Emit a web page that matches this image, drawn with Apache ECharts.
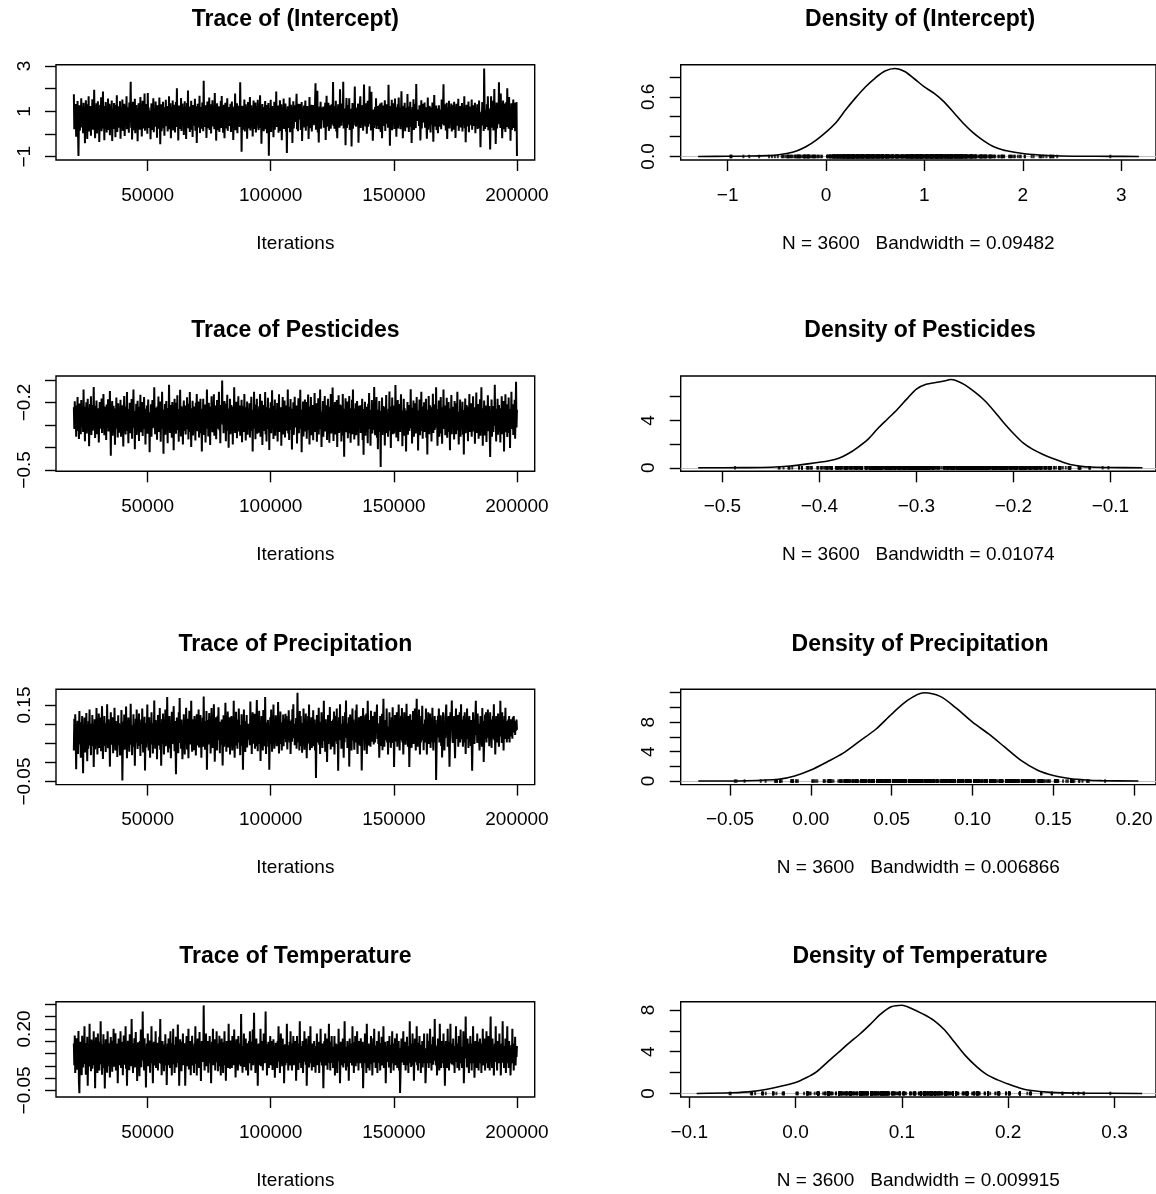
<!DOCTYPE html>
<html>
<head>
<meta charset="utf-8">
<title>MCMC trace and density plots</title>
<script src="https://cdn.jsdelivr.net/npm/echarts@6/dist/echarts.min.js"></script>
<style>
  html, body { margin: 0; padding: 0; background: #fff; }
  #chart { width: 1156px; height: 1194px; }
</style>
</head>
<body>
<div id="chart"></div>
<script>
// ---- chain summary -------------------------------------------------------
const paramNames = ['(Intercept)', 'Pesticides', 'Precipitation', 'Temperature'];
const sampleCount = 3600;
const bandwidths = ['0.09482', '0.01074', '0.006866', '0.009915'];
const iterFirst = 20050;
const iterLast = 200000;

// ---- sampled chain values (about one every 190 iterations) --------------
const traceIntercept = [
  1.75, 0.21, 1.18, 0.44, 1.32, -0.12, 0.93, 0.37, 1.46, 0.08, -0.97, 0.62, 1.27, 0.15, 1.09, 0.52, 1.58, 0.29, 0.84, 1.21,
  0.03, 1.38, 0.47, 1.12, -0.41, 0.71, 1.49, 0.26, 0.98, -0.22, 1.31, 0.58, 1.66, 0.11, 0.89, 0.42, 1.24, -0.08, 1.07, 0.36,
  1.53, 0.19, 1.02, 0.64, 1.95, 0.33, -0.18, 1.17, 0.49, 1.36, 0.02, 0.86, 1.44, 0.27, 1.11, -0.35, 0.77, 1.29, 0.41, 1.62,
  0.12, 1.08, 0.55, 1.88, 0.24, 0.97, -0.27, 1.23, 0.39, 1.41, 0.68, 0.07, 1.19, 0.46, 1.57, 0.18, 0.92, 1.33, -0.05, 0.81,
  1.26, 0.31, 1.48, -0.31, 0.74, 1.13, 0.22, 1.37, 0.51, 0.96, -0.14, 1.29, 0.63, 1.71, 0.09, 1.04, 0.43, 1.22, 0.28, 0.88,
  1.45, -0.21, 0.67, 1.16, 0.35, 1.52, 0.14, 0.99, 0.57, 1.34, -0.09, 0.83, 1.26, 0.38, 1.67, 0.21, 0.94, 0.48, 1.18, 0.06,
  1.39, 0.53, 0.97, 2.31, 0.28, 1.14, -0.24, 0.79, 1.42, 0.17, 1.06, 0.61, 1.55, 0.04, 0.91, 1.28, 0.33, 1.11, -0.32, 0.72,
  1.36, 0.44, 1.01, 0.19, 1.63, 0.58, 1.21, -0.11, 0.87, 1.47, 0.24, 1.09, 0.49, 1.79, 0.15, 0.96, 0.37, 1.32, 0.66, 0.01,
  1.81, 0.39, 1.17, 0.27, 1.04, 0.62, -0.23, 0.93, 1.35, 0.18, 1.24, 0.51, 1.58, 0.08, 0.85, 1.12, 0.32, 1.43, 0.57, 0.98,
  -0.16, 1.27, 0.45, 1.14, 0.23, 1.61, 0.69, -0.45, 0.88, 1.31, 0.12, 1.06, 0.53, 1.42, 0.26, 0.97, -0.07, 1.18, 0.64, 1.51,
  0.34, 0.92, 1.23, 0.11, 1.09, 0.48, 1.67, 0.21, 0.82, 1.36, -0.19, 0.74, 1.19, 0.42, 1.48, 0.16, 1.02, 0.59, 1.29, 0.07,
  0.95, 1.41, 0.31, 2.02, 0.47, 1.13, -0.28, 0.81, 1.26, 0.22, 1.07, 0.55, 1.59, 0.13, 0.89, 1.34, 0.36, 1.16, -0.04, 0.78,
  1.44, 0.28, 1.05, -0.22, 0.92, 1.37, 0.41, 1.92, 0.25, 0.86, 1.21, 0.09, 1.11, 0.58, 1.47, 0.19, 0.99, -0.13, 1.28, 0.52,
  1.03, 0.37, 1.56, 0.14, 0.84, 1.22, -0.39, 0.71, 1.33, 0.29, 1.08, 0.61, 1.69, 0.05, 0.93, 0.44, 1.19, 0.23, 1.39, 0.67,
  0.12, 2.35, 0.48, 1.06, 0.31, 1.27, 0.73, -0.17, 0.96, 1.43, 0.26, 1.12, 0.54, 1.61, 0.18, 0.89, 1.31, 0.02, 1.08, 0.63,
  1.49, 0.33, 0.97, 1.24, 0.21, 1.81, 0.59, 1.03, -0.29, 0.77, 1.36, 0.17, 1.14, 0.46, 1.22, 0.09, 0.91, 0.52, 1.46, 0.27,
  1.68, 0.41, 1.12, 0.06, 0.94, 1.29, -0.19, 0.83, 1.38, 0.24, 1.01, 0.57, 1.58, 0.14, 0.88, 1.19, 0.35, 1.07, 0.49, 1.33,
  0.09, 0.96, 1.43, 0.28, 1.14, -0.26, 0.73, 1.21, 0.38, 1.79, 0.17, 0.99, 0.61, 1.36, 0.04, 0.87, 1.25, 0.43, 1.11, 0.31,
  2.28, 0.54, 1.09, -0.78, 0.66, 1.24, 0.19, 1.03, 0.47, 1.52, 0.11, 0.92, 1.31, 0.36, 1.18, -0.21, 0.84, 1.41, 0.25, 1.06,
  0.58, 1.63, 0.16, 0.95, 1.27, 0.32, 1.12, -0.11, 0.79, 1.48, 0.22, 1.01, 0.53, 1.39, 0.07, 0.91, 1.22, 0.41, 1.51, 0.29,
  0.18, 1.14, 0.62, 1.71, 0.27, 0.98, -0.43, 0.81, 1.32, 0.36, 1.19, 0.12, 1.04, 0.55, 1.46, 0.21, 0.89, 1.28, 0.04, 1.09,
  0.47, 1.37, -0.96, 0.64, 1.15, 0.26, 1.51, 0.09, 0.93, 1.24, 0.38, 1.07, -0.14, 0.86, 1.42, 0.19, 1.12, 0.51, 1.87, 0.31,
  0.97, 0.43, 1.26, 0.06, 1.13, 0.59, 1.49, 0.14, 0.88, 1.31, -0.27, 0.76, 1.18, 0.33, 1.57, 0.22, 0.95, 0.48, 1.35, 0.11,
  1.04, -0.84, 0.68, 1.22, 0.27, 1.16, 0.52, 1.61, 0.08, 0.91, 1.29, 0.37, 1.06, -0.39, 0.79, 1.44, 0.24, 0.99, 0.56, 1.27,
  0.53, 1.09, 1.78, 0.21, 0.96, 0.12, 1.33, 0.64, 1.03, 0.77, 1.32, 0.18, 0.86, 1.41, -0.31, 0.69, 1.17, 0.41, 1.26, 0.29,
  0.83, 1.48, 0.15, 1.02, 0.57, 1.24, 0.34, 1.13, -0.22, 0.67, 1.63, 0.26, 1.02, 0.48, 1.29, 0.11, 0.94, 0.72, 1.28, 0.39,
  0.97, 0.43, 1.36, 2.24, 0.19, 1.14, 0.51, 1.91, 0.07, 0.87, -0.37, 0.76, 1.21, 0.45, 1.42, 0.23, 0.88, 1.17, 0.61, 0.99,
  1.21, 0.28, 1.07, 0.54, 1.38, -0.26, 0.86, 1.69, 0.32, 0.92, 0.49, 1.38, 0.14, 1.11, 0.66, 1.27, 0.23, 0.97, 1.31, 0.42,
  0.87, 2.29, 0.36, 1.08, 0.23, 1.24, 0.62, 1.47, 0.11, 0.93, -0.18, 0.73, 1.31, 0.42, 1.15, 0.28, 1.97, 0.81, 1.04, 0.37,
  0.79, 1.35, 0.57, 2.31, 0.24, 1.13, 0.66, 1.06, -0.49, 0.94, 1.59, 0.27, 0.82, 0.41, 1.28, 0.76, 1.58, 0.18, 0.97, 0.52,
  1.11, -0.55, 0.68, 1.37, 0.23, 0.84, 1.25, 0.72, 2.09, 0.38, 1.01, 0.32, 0.89, 1.17, 0.48, 1.34, -0.38, 0.55, 0.92, 1.34,
  1.66, 0.27, 0.82, 0.49, 1.07, 1.28, 0.15, 0.86, 2.18, 0.61, 1.12, 0.33, 0.97, 1.36, 0.01, 0.74, 1.47, 0.32, 0.93, 0.78,
  2.11, 0.44, 1.44, 0.16, 1.86, 0.38, 0.88, -0.29, 0.46, 1.08, 0.27, 0.71, 1.19, 0.41, 1.58, 0.22, 0.96, 1.23, 0.36, 1.02,
  0.21, 1.27, 0.76, 1.34, 0.09, 0.91, 1.39, -0.18, 0.83, 1.26, 0.35, 1.12, 0.57, 1.49, 0.13, 0.99, 0.46, 1.31, 0.68, 1.04,
  0.28, 2.17, 0.62, 1.14, -0.52, 0.78, 1.23, 0.38, 1.51, 0.17, 0.92, 1.36, 0.44, 1.01, 0.22, 1.57, 0.63, 0.87, -0.12, 1.18,
  0.57, 1.31, 0.24, 1.61, 0.83, 0.38, 1.16, 0.21, 0.93, 1.89, 0.47, 1.07, -0.19, 0.77, 1.25, 0.41, 1.38, 0.12, 0.91, 0.62,
  1.16, 0.29, 1.76, 0.54, 0.97, 0.09, 1.21, 0.73, 1.42, 0.31, 0.86, -0.39, 0.64, 1.19, 0.44, 1.53, 0.18, 1.01, 0.58, 1.33,
  0.26, 2.21, 0.71, 1.02, 0.58, 0.88, 1.08, 0.35, 1.27, 0.61, -0.28, 0.57, 1.49, 0.24, 0.95, 1.33, 0.51, 1.12, 0.81, 1.39,
  0.28, 0.77, 1.18, 0.46, -0.21, 0.67, 1.61, 0.19, 1.09, 0.49, 1.24, 0.85, 0.07, 0.91, 1.17, 0.42, 1.39, 0.53, -0.34, 0.79,
  1.72, 0.33, 1.03, 0.69, 1.26, 0.18, 1.13, 0.56, 0.04, 0.83, 1.27, 0.32, 0.92, 0.59, 1.08, 0.21, 1.52, 0.89, 0.43, 1.15,
  2.19, 0.38, 1.02, 0.72, 1.31, 0.16, 0.94, 1.38, -0.22, 0.71, 1.16, 0.34, 1.47, 0.25, 0.87, 1.21, 0.49, 1.34, 0.11, 0.96,
  0.63, 1.28, 0.19, 1.42, 0.54, 1.07, -0.17, 0.84, 1.33, 0.37, 1.11, 0.68, 1.56, 0.14, 0.93, 0.47, 1.24, 0.29, 1.02, 0.61,
  1.37, 0.11, 0.89, 1.18, 0.42, 1.66, 0.26, 0.98, -0.36, 0.72, 1.29, 0.33, 1.14, 0.55, 1.43, 0.08, 0.86, 1.21, 0.39, 1.07,
  0.48, 1.52, 0.19, 0.96, 1.27, 0.35, 1.09, 0.61, 1.38, 0.04, 0.83, 1.16, 0.45, 1.31, 0.22, 1.04, 0.57, 1.48, 0.27, 0.89,
  -0.58, 0.42, 0.98, 0.71, 1.41, 0.38, 1.24, 0.13, 2.89, 1.13, 0.22, 0.82, 1.06, 0.31, 1.31, 0.58, 1.67, 0.17, 0.86, 1.12,
  0.36, -0.68, 0.51, 1.67, 0.28, 1.02, 0.46, 1.47, 0.16, 0.86, 1.98, 0.32, 0.96, -0.44, 0.61, 1.39, 0.24, 0.88, 1.19, 0.43,
  2.28, 0.63, 1.14, 0.27, 1.79, 0.41, 0.83, -0.18, 0.74, 1.48, 0.21, 1.12, 0.52, 1.34, 0.09, 0.87, 1.41, 0.31, 2.02, 0.58,
  1.21, 0.23, 1.63, 0.44, 0.97, -0.29, 0.81, 1.36, 0.18, 1.26, 0.65, 1.52, 0.27, 0.94, 1.38, 0.12, 1.08, 0.52, 1.41, -0.97
];
const tracePesticides = [
  -0.221, -0.318, -0.194, -0.296, -0.247, -0.352, -0.213, -0.281, -0.176, -0.327, -0.258, -0.362, -0.204, -0.298, -0.233, -0.341, -0.189, -0.309, -0.262, -0.224,
  -0.331, -0.142, -0.287, -0.219, -0.372, -0.246, -0.302, -0.199, -0.338, -0.256, -0.183, -0.318, -0.231, -0.394, -0.268, -0.207, -0.293, -0.172, -0.344, -0.251,
  -0.211, -0.326, -0.262, -0.131, -0.297, -0.238, -0.358, -0.214, -0.283, -0.191, -0.341, -0.249, -0.305, -0.226, -0.378, -0.263, -0.198, -0.317, -0.241, -0.288,
  -0.182, -0.336, -0.229, -0.301, -0.162, -0.274, -0.346, -0.218, -0.292, -0.243, -0.367, -0.209, -0.313, -0.254, -0.186, -0.329, -0.236, -0.298, -0.149, -0.281,
  -0.437, -0.232, -0.306, -0.193, -0.348, -0.257, -0.215, -0.322, -0.264, -0.388, -0.227, -0.291, -0.178, -0.316, -0.249, -0.356, -0.203, -0.276, -0.334, -0.241,
  -0.299, -0.188, -0.352, -0.244, -0.319, -0.212, -0.284, -0.396, -0.236, -0.171, -0.307, -0.259, -0.342, -0.218, -0.291, -0.153, -0.326, -0.263, -0.381, -0.229,
  -0.272, -0.201, -0.337, -0.248, -0.303, -0.184, -0.361, -0.227, -0.289, -0.142, -0.312, -0.253, -0.408, -0.238, -0.296, -0.206, -0.344, -0.268, -0.192, -0.321,
  -0.244, -0.371, -0.219, -0.283, -0.166, -0.332, -0.257, -0.304, -0.198, -0.349, -0.233, -0.292, -0.176, -0.318, -0.262, -0.387, -0.228, -0.279, -0.213, -0.339,
  -0.258, -0.187, -0.324, -0.271, -0.421, -0.243, -0.296, -0.208, -0.352, -0.261, -0.189, -0.314, -0.236, -0.298, -0.132, -0.277, -0.341, -0.222, -0.307, -0.249,
  -0.366, -0.217, -0.289, -0.173, -0.331, -0.252, -0.304, -0.196, -0.374, -0.239, -0.283, -0.152, -0.318, -0.264, -0.428, -0.231, -0.297, -0.207, -0.343, -0.269,
  -0.193, -0.327, -0.248, -0.381, -0.224, -0.291, -0.121, -0.268, -0.336, -0.211, -0.302, -0.253, -0.357, -0.198, -0.287, -0.234, -0.412, -0.262, -0.183, -0.314,
  -0.246, -0.339, -0.201, -0.293, -0.168, -0.322, -0.257, -0.374, -0.229, -0.301, -0.143, -0.278, -0.351, -0.217, -0.306, -0.238, -0.387, -0.254, -0.191, -0.326,
  -0.263, -0.213, -0.342, -0.249, -0.296, -0.177, -0.319, -0.232, -0.364, -0.206, -0.288, -0.153, -0.331, -0.267, -0.398, -0.226, -0.302, -0.192, -0.347, -0.259,
  -0.218, -0.305, -0.241, -0.369, -0.201, -0.286, -0.162, -0.328, -0.252, -0.311, -0.196, -0.356, -0.237, -0.294, -0.183, -0.337, -0.271, -0.418, -0.228, -0.297,
  -0.183, -0.344, -0.236, -0.302, -0.209, -0.378, -0.254, -0.317, -0.142, -0.283, -0.229, -0.351, -0.201, -0.293, -0.262, -0.389, -0.218, -0.308, -0.172, -0.271,
  -0.332, -0.227, -0.291, -0.163, -0.348, -0.244, -0.301, -0.213, -0.363, -0.256, -0.189, -0.317, -0.233, -0.296, -0.152, -0.323, -0.268, -0.381, -0.211, -0.287,
  -0.246, -0.102, -0.298, -0.221, -0.337, -0.257, -0.193, -0.312, -0.238, -0.372, -0.204, -0.289, -0.166, -0.326, -0.251, -0.401, -0.227, -0.302, -0.183, -0.341,
  -0.262, -0.211, -0.318, -0.243, -0.387, -0.219, -0.293, -0.132, -0.271, -0.336, -0.228, -0.306, -0.197, -0.359, -0.247, -0.284, -0.172, -0.329, -0.256, -0.213,
  -0.348, -0.236, -0.297, -0.188, -0.377, -0.253, -0.308, -0.214, -0.331, -0.162, -0.286, -0.241, -0.369, -0.221, -0.302, -0.196, -0.343, -0.263, -0.227, -0.318,
  -0.203, -0.356, -0.249, -0.292, -0.174, -0.327, -0.268, -0.418, -0.233, -0.289, -0.152, -0.316, -0.242, -0.363, -0.209, -0.298, -0.183, -0.339, -0.256, -0.231,
  -0.334, -0.217, -0.291, -0.162, -0.352, -0.244, -0.309, -0.192, -0.389, -0.258, -0.211, -0.327, -0.237, -0.296, -0.153, -0.341, -0.263, -0.373, -0.221, -0.286,
  -0.179, -0.318, -0.248, -0.411, -0.226, -0.302, -0.199, -0.337, -0.254, -0.146, -0.291, -0.233, -0.362, -0.214, -0.297, -0.187, -0.348, -0.267, -0.236, -0.321,
  -0.202, -0.373, -0.243, -0.299, -0.163, -0.331, -0.258, -0.304, -0.221, -0.392, -0.249, -0.283, -0.176, -0.342, -0.237, -0.311, -0.191, -0.356, -0.269, -0.213,
  -0.326, -0.231, -0.288, -0.142, -0.338, -0.253, -0.367, -0.219, -0.297, -0.184, -0.321, -0.246, -0.409, -0.228, -0.302, -0.199, -0.344, -0.262, -0.174, -0.311,
  -0.241, -0.307, -0.213, -0.382, -0.256, -0.296, -0.181, -0.337, -0.227, -0.291, -0.143, -0.318, -0.264, -0.421, -0.232, -0.288, -0.196, -0.351, -0.248, -0.303,
  -0.187, -0.329, -0.252, -0.198, -0.361, -0.239, -0.301, -0.164, -0.323, -0.271, -0.387, -0.218, -0.293, -0.176, -0.346, -0.254, -0.304, -0.211, -0.368, -0.236,
  -0.292, -0.158, -0.331, -0.247, -0.311, -0.203, -0.374, -0.258, -0.287, -0.181, -0.342, -0.229, -0.303, -0.142, -0.319, -0.266, -0.398, -0.241, -0.278, -0.193,
  -0.352, -0.234, -0.306, -0.171, -0.329, -0.252, -0.291, -0.212, -0.367, -0.243, -0.183, -0.314, -0.261, -0.379, -0.219, -0.296, -0.162, -0.338, -0.247, -0.301,
  -0.133, -0.287, -0.371, -0.226, -0.317, -0.198, -0.342, -0.257, -0.304, -0.189, -0.398, -0.238, -0.292, -0.168, -0.336, -0.261, -0.209, -0.326, -0.244, -0.373,
  -0.212, -0.301, -0.162, -0.348, -0.251, -0.441, -0.228, -0.293, -0.181, -0.332, -0.264, -0.308, -0.196, -0.359, -0.239, -0.287, -0.171, -0.337, -0.226, -0.379,
  -0.249, -0.302, -0.188, -0.341, -0.142, -0.283, -0.227, -0.364, -0.251, -0.311, -0.203, -0.346, -0.262, -0.193, -0.318, -0.236, -0.392, -0.214, -0.297, -0.266,
  -0.212, -0.336, -0.241, -0.296, -0.183, -0.367, -0.254, -0.432, -0.229, -0.308, -0.197, -0.348, -0.263, -0.219, -0.327, -0.251, -0.381, -0.206, -0.289, -0.158,
  -0.318, -0.233, -0.392, -0.247, -0.291, -0.189, -0.338, -0.261, -0.208, -0.322, -0.131, -0.279, -0.346, -0.224, -0.303, -0.176, -0.357, -0.252, -0.408, -0.232,
  -0.296, -0.193, -0.331, -0.256, -0.487, -0.238, -0.302, -0.178, -0.344, -0.262, -0.216, -0.314, -0.243, -0.391, -0.221, -0.288, -0.167, -0.336, -0.254, -0.304,
  -0.352, -0.228, -0.287, -0.151, -0.326, -0.249, -0.402, -0.218, -0.297, -0.178, -0.341, -0.262, -0.213, -0.338, -0.243, -0.296, -0.122, -0.283, -0.356, -0.227,
  -0.301, -0.189, -0.372, -0.244, -0.289, -0.207, -0.331, -0.256, -0.163, -0.318, -0.236, -0.394, -0.252, -0.298, -0.183, -0.348, -0.226, -0.312, -0.268, -0.418,
  -0.236, -0.306, -0.198, -0.343, -0.255, -0.211, -0.327, -0.242, -0.281, -0.141, -0.314, -0.248, -0.382, -0.223, -0.296, -0.191, -0.352, -0.264, -0.309, -0.203,
  -0.338, -0.256, -0.176, -0.322, -0.235, -0.413, -0.262, -0.297, -0.187, -0.346, -0.241, -0.291, -0.152, -0.327, -0.257, -0.361, -0.218, -0.303, -0.199, -0.331,
  -0.246, -0.306, -0.183, -0.357, -0.253, -0.431, -0.232, -0.288, -0.171, -0.341, -0.262, -0.212, -0.318, -0.238, -0.373, -0.221, -0.299, -0.161, -0.336, -0.267,
  -0.208, -0.322, -0.243, -0.292, -0.132, -0.312, -0.253, -0.392, -0.229, -0.283, -0.191, -0.352, -0.263, -0.301, -0.176, -0.338, -0.248, -0.383, -0.221, -0.296,
  -0.142, -0.318, -0.257, -0.213, -0.346, -0.246, -0.302, -0.179, -0.357, -0.236, -0.291, -0.198, -0.331, -0.263, -0.412, -0.227, -0.286, -0.167, -0.341, -0.254,
  -0.219, -0.307, -0.236, -0.364, -0.193, -0.296, -0.251, -0.341, -0.203, -0.288, -0.152, -0.324, -0.262, -0.387, -0.241, -0.301, -0.187, -0.352, -0.229, -0.277,
  -0.316, -0.197, -0.343, -0.258, -0.431, -0.233, -0.292, -0.182, -0.337, -0.264, -0.211, -0.308, -0.244, -0.372, -0.218, -0.289, -0.162, -0.331, -0.252, -0.296,
  -0.203, -0.352, -0.247, -0.304, -0.172, -0.329, -0.263, -0.221, -0.383, -0.241, -0.298, -0.156, -0.336, -0.255, -0.313, -0.207, -0.361, -0.238, -0.291, -0.186,
  -0.348, -0.262, -0.132, -0.301, -0.241, -0.392, -0.226, -0.288, -0.191, -0.347, -0.253, -0.308, -0.213, -0.376, -0.239, -0.294, -0.168, -0.328, -0.257, -0.216,
  -0.339, -0.442, -0.246, -0.302, -0.187, -0.352, -0.258, -0.216, -0.331, -0.237, -0.291, -0.121, -0.303, -0.264, -0.373, -0.228, -0.297, -0.183, -0.343, -0.252,
  -0.211, -0.324, -0.243, -0.378, -0.226, -0.288, -0.172, -0.341, -0.261, -0.301, -0.193, -0.418, -0.242, -0.296, -0.163, -0.332, -0.254, -0.208, -0.353, -0.236,
  -0.298, -0.178, -0.336, -0.247, -0.402, -0.229, -0.291, -0.152, -0.318, -0.263, -0.208, -0.344, -0.238, -0.298, -0.188, -0.361, -0.248, -0.108, -0.311, -0.232
];
const tracePrecipitation = [
  0.031, 0.114, 0.054, 0.126, 0.067, -0.018, 0.083, 0.041, 0.109, 0.022, 0.097, 0.063, 0.134, 0.047, 0.088, 0.012, 0.105, 0.072, 0.121, 0.039,
  -0.028, 0.091, 0.058, 0.117, 0.026, 0.084, 0.049, 0.129, 0.063, 0.003, 0.094, 0.036, 0.108, 0.075, 0.138, 0.044, 0.086, 0.019, 0.101, 0.057,
  0.124, 0.042, 0.089, -0.012, 0.067, 0.113, 0.034, 0.097, 0.052, 0.142, 0.076, 0.021, 0.104, 0.065, 0.128, 0.038, 0.083, 0.051, 0.117, 0.029,
  0.096, 0.147, 0.058, 0.009, 0.086, 0.043, 0.121, 0.069, 0.102, 0.027, 0.093, 0.055, 0.152, 0.074, 0.037, 0.113, 0.048, 0.084, -0.011, 0.071,
  0.131, 0.046, 0.099, 0.063, 0.118, 0.024, 0.082, 0.051, 0.143, 0.066, 0.031, 0.108, 0.057, 0.091, 0.014, 0.076, 0.123, 0.045, 0.102, 0.061,
  0.018, 0.094, 0.053, 0.137, 0.072, -0.047, 0.038, 0.106, 0.064, 0.125, 0.033, 0.087, 0.052, 0.146, 0.069, 0.011, 0.092, 0.043, 0.117, 0.077,
  0.028, 0.109, 0.061, 0.153, 0.046, 0.084, 0.019, 0.097, 0.058, 0.126, 0.041, 0.079, -0.009, 0.066, 0.114, 0.052, 0.138, 0.071, 0.035, 0.101,
  0.062, 0.128, 0.043, 0.091, 0.017, 0.082, 0.112, 0.048, 0.141, 0.073, 0.026, 0.096, 0.058, 0.119, -0.021, 0.068, 0.103, 0.039, 0.087, 0.151,
  0.054, 0.098, 0.031, 0.118, 0.067, 0.012, 0.089, 0.047, 0.131, 0.074, 0.102, 0.023, 0.081, 0.056, 0.162, 0.072, 0.036, 0.111, 0.052, 0.093,
  0.008, 0.076, 0.124, 0.044, 0.097, 0.061, 0.142, 0.033, 0.086, -0.009, 0.071, 0.113, 0.049, 0.128, 0.066, 0.021, 0.094, 0.057, 0.138, 0.042,
  0.103, 0.052, 0.171, 0.078, 0.026, 0.092, 0.058, 0.121, 0.037, 0.084, 0.011, 0.067, 0.132, 0.048, 0.096, 0.063, 0.147, 0.071, 0.029, 0.108,
  0.054, -0.031, 0.062, 0.117, 0.041, 0.088, 0.024, 0.131, 0.073, 0.168, 0.051, 0.097, 0.036, 0.112, 0.064, 0.008, 0.089, 0.046, 0.126, 0.069,
  0.021, 0.102, 0.057, 0.143, 0.083, 0.034, 0.114, 0.062, 0.011, 0.076, 0.135, 0.047, 0.093, 0.059, 0.161, 0.068, 0.028, 0.113, 0.052, 0.089,
  0.032, 0.121, 0.069, 0.098, 0.018, 0.083, 0.126, 0.044, 0.107, 0.061, 0.138, 0.039, 0.078, 0.055, 0.124, 0.071, 0.012, 0.094, 0.058, 0.117,
  0.041, 0.172, 0.066, 0.108, 0.033, 0.091, 0.056, 0.134, -0.019, 0.062, 0.111, 0.047, 0.086, 0.129, 0.051, 0.097, 0.023, 0.083, 0.142, 0.068,
  0.038, 0.101, 0.064, 0.152, 0.074, 0.002, 0.069, 0.118, 0.049, 0.093, 0.031, 0.122, 0.067, 0.144, 0.058, 0.088, 0.024, 0.106, 0.072, 0.046,
  0.112, 0.053, -0.008, 0.063, 0.123, 0.041, 0.098, 0.067, 0.156, 0.076, 0.028, 0.101, 0.055, 0.133, 0.039, 0.087, 0.061, 0.118, 0.021, 0.092,
  0.048, 0.121, 0.072, 0.031, 0.103, 0.057, 0.161, 0.068, 0.012, 0.089, 0.044, 0.132, 0.063, 0.097, 0.036, 0.112, 0.071, 0.141, 0.052, 0.082,
  0.019, 0.098, 0.058, 0.126, 0.043, 0.079, -0.019, 0.066, 0.138, 0.051, 0.092, 0.027, 0.108, 0.063, 0.124, 0.039, 0.084, 0.059, 0.101, 0.071,
  0.081, 0.045, 0.159, 0.067, 0.104, 0.022, 0.083, 0.131, 0.049, 0.096, 0.062, 0.127, 0.036, 0.085, 0.042, 0.103, 0.163, 0.072, 0.029, 0.113,
  0.062, 0.135, 0.048, 0.082, 0.004, 0.069, 0.121, 0.053, 0.098, 0.031, 0.137, 0.064, 0.092, 0.042, 0.171, 0.073, 0.022, 0.104, 0.056, 0.088,
  0.111, 0.041, 0.089, -0.019, 0.058, 0.118, 0.049, 0.138, 0.074, 0.028, 0.108, 0.062, 0.151, 0.068, 0.036, 0.096, 0.052, 0.123, 0.081, 0.042,
  0.101, 0.057, 0.158, 0.071, 0.023, 0.092, 0.048, 0.133, 0.066, 0.105, 0.031, 0.087, 0.059, 0.125, 0.042, 0.113, 0.081, 0.062, 0.127, 0.053,
  0.121, 0.073, 0.034, 0.103, 0.061, 0.136, 0.081, 0.052, 0.108, 0.022, 0.068, 0.112, 0.054, 0.139, 0.078, 0.152, 0.063, 0.101, 0.045, 0.083,
  0.061, 0.116, 0.036, 0.083, 0.182, 0.071, 0.053, 0.102, 0.031, 0.134, 0.042, 0.121, 0.068, 0.092, 0.025, 0.103, 0.046, 0.141, 0.075, 0.033,
  0.098, 0.052, 0.128, 0.068, 0.011, 0.086, 0.049, 0.121, 0.073, 0.151, 0.061, 0.032, 0.103, 0.057, 0.118, 0.038, 0.091, 0.067, 0.136, 0.042,
  0.081, 0.112, 0.031, 0.089, -0.041, 0.062, 0.124, 0.052, 0.098, 0.071, 0.143, 0.046, 0.083, 0.022, 0.106, 0.064, 0.131, 0.073, 0.038, 0.101,
  0.056, 0.161, 0.068, 0.092, 0.028, 0.113, 0.052, 0.082, 0.001, 0.067, 0.124, 0.048, 0.096, 0.061, 0.145, 0.073, 0.034, 0.108, 0.051, 0.089,
  0.041, 0.112, 0.068, 0.133, 0.021, 0.083, 0.055, 0.122, 0.066, 0.141, 0.048, 0.097, -0.022, 0.061, 0.118, 0.072, 0.152, 0.058, 0.101, 0.036,
  0.088, 0.048, 0.121, 0.062, 0.012, 0.094, 0.053, 0.131, 0.078, 0.162, 0.064, 0.102, 0.038, 0.082, 0.047, 0.118, -0.011, 0.068, 0.125, 0.057,
  0.103, 0.031, 0.092, 0.141, 0.058, 0.112, 0.071, 0.033, 0.098, 0.052, 0.136, 0.081, 0.151, 0.061, 0.022, 0.095, 0.046, 0.118, 0.068, 0.104,
  0.043, 0.121, 0.065, -0.021, 0.052, 0.101, 0.142, 0.068, 0.097, 0.031, 0.086, 0.123, 0.061, 0.128, 0.022, 0.073, 0.161, 0.091, 0.044, 0.111,
  0.062, 0.092, 0.041, 0.135, 0.072, 0.101, 0.054, 0.121, 0.078, 0.047, 0.088, 0.132, 0.052, 0.114, 0.076, 0.109, 0.151, 0.061, 0.102, 0.048,
  0.081, 0.012, 0.068, 0.121, 0.043, 0.098, 0.061, 0.127, 0.032, 0.101, 0.166, 0.072, 0.041, 0.092, 0.058, 0.111, 0.074, 0.141, 0.052, 0.088,
  0.021, 0.094, 0.052, 0.131, 0.063, 0.111, 0.038, 0.082, 0.118, 0.051, 0.144, 0.068, 0.098, -0.012, 0.061, 0.124, 0.055, 0.099, 0.072, 0.131,
  0.041, 0.108, 0.061, 0.151, 0.081, 0.031, 0.101, 0.058, 0.122, 0.071, 0.142, 0.052, 0.091, 0.021, 0.078, 0.131, 0.063, 0.111, 0.046, 0.088,
  0.153, 0.068, 0.102, 0.041, 0.121, 0.081, -0.012, 0.052, 0.126, 0.063, 0.098, 0.038, 0.111, 0.071, 0.134, 0.048, 0.092, 0.058, 0.141, 0.072,
  0.031, 0.096, 0.166, 0.078, 0.041, 0.111, 0.061, 0.138, 0.072, 0.021, 0.089, 0.052, 0.121, 0.074, 0.148, 0.058, 0.101, 0.032, 0.098, 0.061,
  0.112, 0.052, 0.141, 0.081, 0.021, 0.092, 0.063, 0.131, 0.048, 0.101, 0.072, 0.128, 0.038, 0.082, 0.115, 0.053, 0.143, 0.068, 0.031, 0.098,
  0.061, 0.121, 0.052, 0.111, -0.046, 0.031, 0.101, 0.065, 0.122, 0.081, 0.141, 0.052, 0.098, 0.061, 0.123, 0.043, 0.088, 0.013, 0.078, 0.131,
  0.121, 0.061, 0.031, 0.092, 0.064, 0.128, 0.151, 0.072, 0.108, 0.041, 0.093, 0.121, 0.052, -0.011, 0.058, 0.131, 0.081, 0.102, 0.162, 0.068,
  0.051, 0.103, 0.078, 0.121, 0.058, 0.011, 0.082, 0.141, 0.061, 0.108, 0.071, 0.124, 0.041, 0.085, 0.061, 0.131, 0.052, 0.091, 0.152, 0.072,
  0.061, 0.112, 0.041, 0.098, 0.122, 0.052, 0.131, 0.071, 0.022, 0.096, 0.061, 0.141, 0.078, 0.103, 0.038, 0.088, 0.121, 0.063, 0.098, 0.043,
  0.111, 0.048, -0.022, 0.052, 0.131, 0.068, 0.103, 0.048, 0.081, 0.121, 0.161, 0.072, 0.102, 0.051, 0.128, 0.078, 0.101, 0.061, 0.031, 0.082,
  0.121, 0.061, 0.098, 0.041, 0.142, 0.071, 0.108, 0.001, 0.048, 0.091, 0.125, 0.062, 0.131, 0.052, 0.092, 0.064, 0.138, 0.078, 0.112, 0.042,
  0.088, 0.131, 0.061, 0.112, 0.038, 0.098, 0.062, 0.121, 0.081, 0.152, 0.058, 0.102, 0.021, 0.081, 0.121, 0.063, 0.098, 0.052, 0.128, 0.072,
  0.041, 0.112, 0.068, 0.161, 0.078, 0.102, 0.051, 0.131, 0.063, 0.098, 0.031, 0.088, 0.121, 0.061, 0.143, 0.072, 0.108, 0.052, 0.092, 0.061,
  0.112, 0.071, 0.121, 0.052, 0.098, 0.068, 0.113, 0.081, 0.103, 0.062, 0.118, 0.078, 0.121, 0.091, 0.108, 0.072, 0.101, 0.083, 0.112, 0.085
];
const traceTemperature = [
  0.141, 0.052, 0.173, 0.021, 0.118, 0.076, 0.162, 0.034, 0.129, 0.083, 0.192, -0.018, -0.062, 0.093, 0.148, 0.065, 0.124, 0.012, 0.172, 0.088,
  0.043, 0.131, 0.076, 0.211, 0.058, 0.102, 0.014, 0.143, 0.084, 0.168, -0.031, 0.092, 0.136, 0.047, 0.221, 0.071, 0.118, 0.028, 0.157, 0.096,
  0.038, 0.151, 0.081, 0.191, 0.052, 0.125, -0.041, 0.108, 0.166, 0.063, 0.133, 0.021, 0.181, 0.074, 0.112, 0.031, 0.148, 0.086, 0.231, 0.057,
  0.102, 0.014, 0.138, 0.071, 0.178, 0.041, 0.127, -0.042, 0.093, 0.158, 0.061, 0.134, 0.022, 0.191, 0.079, 0.142, 0.048, 0.116, 0.002, 0.127,
  0.167, 0.061, 0.113, 0.026, 0.152, 0.088, 0.201, 0.046, 0.128, 0.075, 0.183, 0.031, 0.121, 0.068, 0.141, -0.021, 0.098, 0.161, 0.052, 0.132,
  0.078, 0.191, 0.041, 0.118, 0.063, 0.148, 0.012, 0.102, 0.173, 0.054, 0.136, 0.081, 0.211, 0.038, 0.111, -0.031, 0.087, 0.152, 0.066, 0.123,
  0.032, 0.178, 0.071, 0.131, 0.048, 0.241, 0.091, 0.142, 0.021, 0.118, 0.064, 0.162, 0.043, 0.101, 0.188, 0.058, 0.128, -0.012, 0.097, 0.146,
  0.062, 0.121, 0.008, 0.151, 0.083, 0.198, 0.044, 0.135, 0.072, 0.271, 0.086, 0.118, 0.031, 0.162, 0.058, 0.122, -0.038, 0.091, 0.141, 0.074,
  0.181, 0.048, 0.116, 0.067, 0.153, 0.022, 0.131, 0.083, 0.211, 0.061, 0.102, -0.021, 0.088, 0.148, 0.051, 0.126, 0.072, 0.191, 0.041, 0.128,
  0.071, 0.144, 0.031, 0.112, 0.062, 0.168, 0.093, 0.241, 0.058, 0.121, 0.012, 0.104, 0.151, 0.068, 0.137, 0.028, 0.118, 0.081, 0.178, 0.051,
  0.118, -0.028, 0.078, 0.141, 0.052, 0.161, 0.095, 0.128, 0.041, 0.191, 0.071, 0.117, 0.011, 0.143, 0.083, 0.201, 0.056, 0.112, 0.021, 0.136,
  0.081, 0.168, 0.043, 0.131, 0.076, 0.218, 0.062, 0.124, -0.031, 0.098, 0.158, 0.061, 0.112, 0.028, 0.148, 0.084, 0.181, 0.052, 0.123, 0.068,
  0.142, -0.031, 0.061, 0.118, 0.171, 0.048, 0.133, 0.082, 0.201, 0.035, 0.109, 0.062, 0.151, 0.012, 0.127, 0.083, 0.172, 0.051, 0.128, 0.074,
  0.021, 0.141, 0.082, 0.211, 0.058, 0.118, 0.011, 0.103, 0.161, 0.062, 0.134, 0.041, 0.188, 0.072, 0.121, -0.012, 0.098, 0.151, 0.066, 0.118,
  0.081, 0.296, 0.102, 0.031, 0.145, 0.072, 0.181, 0.048, 0.121, 0.087, 0.151, 0.022, 0.112, 0.061, 0.171, 0.091, 0.133, -0.021, 0.078, 0.148,
  0.061, 0.201, 0.052, 0.121, 0.084, 0.158, 0.031, 0.131, 0.072, 0.191, 0.065, 0.118, 0.028, 0.141, 0.093, 0.172, 0.048, 0.112, 0.011, 0.128,
  0.161, 0.051, 0.108, 0.021, 0.146, 0.078, 0.191, 0.052, 0.118, -0.011, 0.091, 0.151, 0.062, 0.135, 0.041, 0.221, 0.081, 0.119, 0.038, 0.153,
  0.072, 0.128, 0.041, 0.171, 0.094, 0.131, 0.052, 0.198, 0.067, 0.112, 0.002, 0.098, 0.158, 0.061, 0.124, 0.031, 0.171, 0.082, 0.141, 0.055,
  0.112, 0.048, 0.261, 0.091, 0.131, 0.022, 0.118, 0.072, 0.181, 0.045, 0.128, 0.081, 0.161, 0.031, 0.108, 0.066, 0.142, 0.011, 0.098, 0.151,
  0.061, 0.191, 0.071, 0.125, 0.031, 0.148, 0.083, 0.198, 0.052, 0.131, 0.266, 0.078, 0.121, 0.021, 0.101, 0.161, 0.064, 0.137, -0.031, 0.092,
  0.141, 0.052, 0.131, 0.085, 0.201, 0.048, 0.121, 0.076, 0.151, 0.031, 0.112, 0.181, 0.061, 0.128, 0.091, 0.271, 0.062, 0.118, 0.011, 0.138,
  0.068, 0.148, 0.041, 0.121, 0.084, 0.171, 0.052, 0.116, 0.061, 0.151, 0.033, 0.098, 0.158, 0.071, 0.131, 0.001, 0.088, 0.144, 0.062, 0.118,
  0.041, 0.151, 0.091, 0.211, 0.067, 0.131, 0.021, 0.102, 0.181, 0.071, 0.128, 0.048, 0.161, 0.086, 0.135, -0.021, 0.072, 0.138, 0.052, 0.121,
  0.081, 0.221, 0.062, 0.134, 0.031, 0.112, 0.083, 0.148, 0.051, 0.191, 0.075, 0.122, 0.031, 0.141, 0.087, 0.171, 0.052, 0.118, 0.064, 0.151,
  0.121, -0.011, 0.081, 0.171, 0.061, 0.118, 0.033, 0.141, 0.085, 0.231, 0.062, 0.126, 0.041, 0.131, 0.072, 0.151, 0.021, 0.108, 0.067, 0.191,
  0.071, 0.131, 0.054, 0.161, -0.031, 0.062, 0.135, 0.081, 0.171, 0.043, 0.121, 0.076, 0.211, 0.061, 0.118, 0.031, 0.141, 0.084, 0.128, 0.045,
  0.151, 0.061, 0.124, 0.022, 0.131, 0.087, 0.181, 0.052, 0.118, 0.071, 0.148, 0.021, 0.108, 0.065, 0.201, 0.071, 0.133, 0.051, 0.141, 0.083,
  -0.041, 0.062, 0.151, 0.086, 0.181, 0.051, 0.118, 0.072, 0.161, 0.034, 0.121, 0.081, 0.221, 0.063, 0.118, 0.031, 0.148, 0.085, 0.171, 0.062,
  0.112, 0.041, 0.128, 0.081, 0.171, 0.011, 0.092, 0.141, 0.064, 0.121, 0.021, 0.137, 0.071, 0.201, 0.068, 0.121, -0.021, 0.078, 0.148, 0.052,
  0.131, 0.072, 0.161, 0.043, 0.112, 0.085, 0.231, 0.061, 0.128, 0.031, 0.124, 0.071, 0.151, 0.046, 0.118, -0.011, 0.098, 0.161, 0.062, 0.121,
  0.081, 0.141, 0.051, 0.211, 0.073, 0.118, 0.021, 0.146, 0.081, 0.171, 0.048, 0.128, 0.075, 0.191, 0.061, 0.118, 0.031, 0.151, 0.072, 0.134,
  0.061, 0.162, 0.071, 0.118, 0.041, 0.148, -0.041, 0.042, 0.121, 0.083, 0.181, 0.061, 0.118, 0.021, 0.221, 0.086, 0.128, 0.041, 0.141, 0.092,
  0.031, 0.128, 0.081, 0.171, 0.056, 0.121, 0.011, 0.098, 0.162, 0.064, 0.201, 0.071, 0.133, 0.041, 0.118, 0.072, 0.151, 0.021, 0.127, 0.081,
  0.191, 0.062, 0.121, 0.031, 0.143, 0.081, 0.168, 0.051, 0.118, 0.074, 0.211, 0.041, 0.125, 0.081, 0.148, -0.021, 0.072, 0.131, 0.066, 0.151,
  0.081, 0.121, 0.043, 0.171, 0.071, 0.136, 0.021, 0.121, 0.084, 0.191, 0.061, 0.118, 0.031, 0.141, 0.087, 0.162, 0.052, 0.121, 0.071, 0.181,
  0.041, 0.112, 0.068, 0.151, 0.031, 0.121, -0.061, 0.018, 0.101, 0.161, 0.064, 0.128, 0.081, 0.191, 0.053, 0.118, 0.071, 0.148, 0.031, 0.124,
  0.081, 0.168, 0.052, 0.131, 0.021, 0.126, 0.081, 0.231, 0.061, 0.118, 0.045, 0.141, 0.072, 0.181, 0.051, 0.123, -0.011, 0.078, 0.161, 0.065,
  0.131, 0.071, 0.211, 0.052, 0.118, 0.031, 0.144, 0.081, 0.171, 0.062, 0.121, 0.021, 0.135, 0.081, 0.151, 0.043, 0.118, 0.072, 0.181, 0.061,
  0.121, -0.021, 0.031, 0.121, 0.076, 0.181, 0.061, 0.128, 0.041, 0.151, 0.085, 0.201, 0.062, 0.118, 0.031, 0.138, 0.081, 0.168, 0.054, 0.121,
  0.071, 0.241, 0.081, 0.133, 0.051, 0.121, 0.011, 0.098, 0.161, 0.073, 0.131, 0.031, 0.221, 0.084, 0.121, 0.041, 0.151, 0.076, 0.128, 0.061,
  0.181, 0.041, 0.121, -0.031, 0.081, 0.151, 0.063, 0.131, 0.041, 0.201, 0.074, 0.118, 0.031, 0.148, 0.081, 0.221, 0.061, 0.118, 0.055, 0.141,
  0.081, 0.161, 0.051, 0.127, 0.021, 0.131, 0.071, 0.211, 0.066, 0.118, 0.041, 0.141, 0.086, 0.171, 0.031, 0.121, 0.075, 0.198, 0.061, 0.128,
  0.041, 0.121, 0.071, 0.191, -0.021, 0.052, 0.131, 0.083, 0.251, 0.081, 0.121, 0.043, 0.161, 0.067, 0.128, 0.021, 0.141, 0.081, 0.171, 0.061,
  0.118, 0.031, 0.141, 0.085, 0.211, 0.061, 0.126, 0.001, 0.081, 0.151, 0.064, 0.128, 0.041, 0.181, 0.073, 0.121, 0.031, 0.148, 0.087, 0.161,
  0.061, 0.121, 0.021, 0.141, 0.083, 0.201, 0.051, 0.124, 0.071, 0.161, 0.031, 0.121, 0.086, 0.191, 0.061, 0.131, 0.041, 0.171, 0.081, 0.122,
  0.031, 0.148, 0.251, 0.081, 0.125, 0.041, 0.161, 0.071, 0.128, 0.011, 0.091, 0.141, 0.066, 0.211, 0.081, 0.121, 0.031, 0.151, 0.074, 0.121,
  0.061, 0.181, 0.071, 0.127, 0.011, 0.101, 0.141, 0.063, 0.231, 0.081, 0.131, 0.041, 0.121, 0.076, 0.161, 0.021, 0.121, 0.084, 0.211, 0.061,
  0.131, 0.041, 0.151, 0.082, 0.121, 0.011, 0.071, 0.135, 0.061, 0.201, 0.081, 0.121, 0.031, 0.141, 0.077, 0.168, 0.051, 0.121, 0.086, 0.131
];

// ---- kernel density estimates [x, density] ------------------------------
const densityIntercept = [
  [-1.30, 0], [-1.0, 0.002], [-0.8, 0.004], [-0.6, 0.008], [-0.5, 0.015], [-0.4, 0.03], [-0.3, 0.055],
  [-0.2, 0.10], [-0.1, 0.165], [0.0, 0.245], [0.1, 0.34], [0.2, 0.47], [0.3, 0.59], [0.4, 0.70],
  [0.5, 0.79], [0.6, 0.86], [0.7, 0.885], [0.8, 0.855], [0.9, 0.78], [1.0, 0.70], [1.1, 0.635],
  [1.2, 0.55], [1.3, 0.44], [1.4, 0.33], [1.5, 0.235], [1.6, 0.16], [1.7, 0.10], [1.8, 0.065],
  [1.9, 0.045], [2.0, 0.03], [2.1, 0.02], [2.2, 0.012], [2.4, 0.004], [2.6, 0.002], [2.9, 0.001], [3.18, 0]
];
const densityPesticides = [
  [-0.525, 0], [-0.48, 0.01], [-0.45, 0.04], [-0.43, 0.15], [-0.41, 0.35], [-0.39, 0.6], [-0.38, 0.8],
  [-0.37, 1.2], [-0.36, 1.75], [-0.35, 2.4], [-0.34, 3.3], [-0.33, 4.1], [-0.32, 4.9], [-0.31, 5.8],
  [-0.30, 6.65], [-0.29, 7.05], [-0.28, 7.2], [-0.27, 7.35], [-0.265, 7.45], [-0.26, 7.4], [-0.25, 7.0],
  [-0.24, 6.4], [-0.23, 5.7], [-0.22, 4.8], [-0.21, 3.8], [-0.20, 2.9], [-0.19, 2.1], [-0.18, 1.55],
  [-0.17, 1.15], [-0.16, 0.8], [-0.15, 0.5], [-0.14, 0.25], [-0.13, 0.12], [-0.12, 0.06], [-0.10, 0.02], [-0.067, 0]
];
const densityPrecipitation = [
  [-0.0696, 0], [-0.04, 0.05], [-0.02, 0.25], [-0.01, 0.7], [0.0, 1.5], [0.01, 2.6], [0.02, 3.8],
  [0.03, 5.4], [0.04, 7.0], [0.05, 9.1], [0.06, 11.0], [0.07, 12.0], [0.08, 11.5], [0.09, 9.9],
  [0.10, 8.0], [0.11, 6.4], [0.12, 4.6], [0.13, 2.8], [0.14, 1.5], [0.15, 0.75], [0.16, 0.35],
  [0.17, 0.15], [0.18, 0.06], [0.2026, 0]
];
const densityTemperature = [
  [-0.093, 0], [-0.06, 0.06], [-0.04, 0.2], [-0.02, 0.55], [0.0, 1.05], [0.01, 1.5], [0.02, 2.1],
  [0.03, 3.0], [0.04, 3.9], [0.05, 4.8], [0.06, 5.65], [0.07, 6.6], [0.08, 7.6], [0.09, 8.3],
  [0.10, 8.45], [0.11, 8.1], [0.12, 7.6], [0.13, 7.0], [0.14, 6.1], [0.15, 4.85], [0.16, 3.6],
  [0.17, 2.6], [0.18, 1.8], [0.19, 1.3], [0.20, 0.9], [0.21, 0.55], [0.22, 0.3], [0.24, 0.1],
  [0.27, 0.03], [0.326, 0]
];

// ---- axis ticks and labels ----------------------------------------------
const traceXTicks = [50000, 100000, 150000, 200000];
const traceYTicks = [[-1, 0, 1, 2, 3], [-0.5, -0.4, -0.3, -0.2, -0.1], [-0.05, 0, 0.05, 0.10, 0.15], [-0.05, 0, 0.05, 0.10, 0.15, 0.20, 0.25, 0.30]];
const traceYLabels = [[-1, 1, 3], [-0.5, -0.2], [-0.05, 0.15], [-0.05, 0.20]];
const densXTicks = [[-1, 0, 1, 2, 3], [-0.5, -0.4, -0.3, -0.2, -0.1], [-0.05, 0, 0.05, 0.10, 0.15, 0.20], [-0.1, 0, 0.1, 0.2, 0.3]];
const densYTicks = [[0, 0.2, 0.4, 0.6, 0.8], [0, 2, 4, 6], [0, 2, 4, 6, 8, 10, 12], [0, 2, 4, 6, 8]];
const densYLabels = [[0, 0.6], [0, 4], [0, 4, 8], [0, 4, 8]];

// ---- layout / axis ranges ------------------------------------------------
const FONT = '"Liberation Sans", Arial, Helvetica, sans-serif';
const rowTops = [64.7, 376, 689.3, 1001.7];
const boxH = 95.3, boxW = 478.7;
const colLeft = [56, 680.7];
const traceXRange = [12800, 207200];
const traceYRange = [[-1.145, 3.057], [-0.506, -0.082], [-0.058, 0.191], [-0.077, 0.311]];
const densXRange = [[-1.477, 3.354], [-0.543, -0.053], [-0.0805, 0.2135], [-0.108, 0.339]];
const densYRange = [[-0.0356, 0.924], [-0.298, 7.75], [-0.48, 12.46], [-0.34, 8.79]];
const traceYDigits = [0, 1, 2, 2];
const densXDigits = [0, 1, 2, 1];
const densYDigits = [1, 0, 0, 0];

const traces = [traceIntercept, tracePesticides, tracePrecipitation, traceTemperature];
const densities = [densityIntercept, densityPesticides, densityPrecipitation, densityTemperature];

const fmt = (d) => (v) => Number(v).toFixed(d).replace('-', '\u2212');
const textStyle = { fontSize: 19, color: '#000', fontFamily: FONT };

function xAxisDef(gi, range, ticks, labels, digits, name) {
  return {
    type: 'value', gridIndex: gi, min: range[0], max: range[1],
    axisLine: { show: false, onZero: false },
    splitLine: { show: false },
    axisTick: { show: true, length: 11, lineStyle: { color: '#000', width: 1.4 }, customValues: ticks },
    axisLabel: Object.assign({ customValues: labels, formatter: digits === null ? (v) => String(v) : fmt(digits), margin: 26 }, textStyle),
    name: name, nameLocation: 'middle', nameGap: 74, nameTextStyle: textStyle
  };
}
function yAxisDef(gi, range, ticks, labels, digits) {
  return {
    type: 'value', gridIndex: gi, min: range[0], max: range[1],
    axisLine: { show: false, onZero: false },
    splitLine: { show: false },
    axisTick: { show: true, length: 11, lineStyle: { color: '#000', width: 1.4 }, customValues: ticks },
    axisLabel: Object.assign({ customValues: labels, formatter: fmt(digits), rotate: 90, margin: 22 }, textStyle)
  };
}

const grids = [], xAxes = [], yAxes = [], series = [], titles = [];
paramNames.forEach((p, r) => {
  // trace panel
  const gT = grids.length;
  grids.push({ left: colLeft[0], top: rowTops[r], width: boxW, height: boxH, show: true,
    borderColor: '#000', borderWidth: 1.4, backgroundColor: 'transparent' });
  xAxes.push(xAxisDef(gT, traceXRange, traceXTicks, traceXTicks, null, 'Iterations'));
  yAxes.push(yAxisDef(gT, traceYRange[r], traceYTicks[r], traceYLabels[r], traceYDigits[r]));
  const vals = traces[r];
  const step = (iterLast - iterFirst) / (vals.length - 1);
  series.push({
    type: 'line', xAxisIndex: gT, yAxisIndex: gT, showSymbol: false, silent: true,
    lineStyle: { color: '#000', width: 2 },
    data: vals.map((v, i) => [iterFirst + i * step, v])
  });
  titles.push({ text: 'Trace of ' + p, x: colLeft[0] + boxW / 2, y: rowTops[r] - 45 });

  // density panel
  const gD = grids.length;
  grids.push({ left: colLeft[1], top: rowTops[r], width: boxW, height: boxH, show: true,
    borderColor: '#000', borderWidth: 1.4, backgroundColor: 'transparent' });
  xAxes.push(xAxisDef(gD, densXRange[r], densXTicks[r], densXTicks[r], densXDigits[r],
    'N = ' + sampleCount + '   Bandwidth = ' + bandwidths[r]));
  yAxes.push(yAxisDef(gD, densYRange[r], densYTicks[r], densYLabels[r], densYDigits[r]));
  series.push({
    type: 'line', xAxisIndex: gD, yAxisIndex: gD, showSymbol: false, silent: true, smooth: 0.3,
    lineStyle: { color: '#000', width: 1.6 },
    data: densities[r],
    markLine: {
      silent: true, symbol: 'none', label: { show: false }, z: 1,
      lineStyle: { color: '#bebebe', width: 1, type: 'solid' },
      data: [{ yAxis: 0 }]
    }
  });
  // observation marks along the baseline
  series.push({
    type: 'scatter', xAxisIndex: gD, yAxisIndex: gD, silent: true,
    symbol: 'rect', symbolSize: [2, 3.5],
    itemStyle: { color: '#000' },
    data: vals.map((v) => [v, 0])
  });
  titles.push({ text: 'Density of ' + p, x: colLeft[1] + boxW / 2, y: rowTops[r] - 45 });
});

const chart = echarts.init(document.getElementById('chart'), null, { renderer: 'canvas' });
chart.setOption({
  backgroundColor: '#fff',
  animation: false,
  grid: grids,
  xAxis: xAxes,
  yAxis: yAxes,
  series: series,
  graphic: titles.map((t) => ({
    type: 'text', x: t.x, y: t.y, silent: true,
    style: { text: t.text, fontSize: 23, fontWeight: 'bold', fontFamily: FONT, fill: '#000',
      align: 'center', verticalAlign: 'middle' }
  }))
});
</script>
</body>
</html>
